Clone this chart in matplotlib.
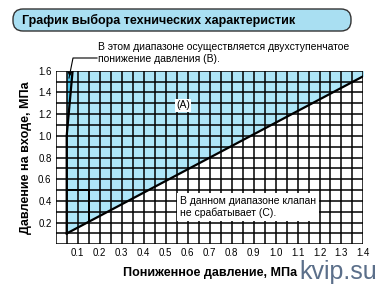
import numpy as np
import matplotlib.pyplot as plt
from matplotlib.patches import FancyBboxPatch

plt.rcParams['font.family'] = ['Liberation Sans', 'DejaVu Sans']

# boundary of the working area (A + B)
low_x = [0.05, 1.4]          # lower diagonal: reduced pressure
low_y = [0.1, 1.55]          # inlet pressure
split_x = [0.05, 0.05, 0.077]  # thick line separating band B from A
split_y = [0.1, 1.0, 1.6]
box_x = [0.05, 0.15, 0.15]   # small marked rectangle
box_y = [0.5, 0.5, 0.207]

xticks = np.round(np.arange(0.1, 1.41, 0.1), 1)
yticks = np.round(np.arange(0.2, 1.61, 0.2), 1)

fig = plt.figure(figsize=(3.81, 2.88), dpi=100)
ax = fig.add_axes([0.1462, 0.1517, 0.8078, 0.6028])
ax.set_xlim(0, 1.4)
ax.set_ylim(0, 1.6)

# region A (light blue) between the diagonal and the top
xa = np.linspace(low_x[0], low_x[1], 50)
ya = np.interp(xa, low_x, low_y)
ax.fill_between(xa, ya, 1.6, color='#aee6f8', zorder=1, lw=0)
# band B (darker cyan)
yb = np.linspace(split_y[1], split_y[2], 20)
xb = np.interp(yb, split_y[1:], split_x[1:])
ax.fill_betweenx(yb, 0.05, xb, color='#4cc6ec', zorder=1, lw=0)

# grid
for gx in np.arange(0, 1.401, 0.05):
    ax.axvline(gx, color='black', lw=1.1, zorder=2)
for gy in np.arange(0, 1.601, 0.1):
    ax.axhline(gy, color='black', lw=1.1, zorder=2)

ax.plot(low_x, low_y, color='black', lw=1.6, zorder=3)
ax.plot(split_x, split_y, color='black', lw=1.6, zorder=3)
ax.plot(box_x, box_y, color='black', lw=1.4, zorder=3)

for s in ax.spines.values():
    s.set_visible(False)
ax.tick_params(length=0, labelsize=7, pad=3)
ax.set_xticks(xticks)
ax.set_xticklabels([f'{v:.1f}' for v in xticks])
ax.set_yticks(yticks)
ax.set_yticklabels([f'{v:.1f}' for v in yticks])

ax.set_xlabel('Пониженное давление, МПа', fontsize=9, fontweight='bold', labelpad=6)
ax.set_ylabel('Давление на входе, МПа', fontsize=9, fontweight='bold', labelpad=4)

# labels inside the chart
ax.text(0.58, 1.28, '(A)', fontsize=7.5, ha='center', va='center', zorder=4,
        bbox=dict(facecolor='white', edgecolor='none', pad=1))
ax.text(0.565, 0.345, 'В данном диапазоне клапан\nне срабатывает (C).', fontsize=7.5,
        ha='left', va='center', zorder=4, linespacing=1.2,
        bbox=dict(facecolor='white', edgecolor='none', pad=2))

# note about band B with a leader line
fig.text(98 / 381, 1 - 53 / 288, 'В этом диапазоне осуществляется двухступенчатое\nпонижение давления (B).',
         fontsize=7.5, ha='left', va='center', linespacing=1.2)
fig.add_artist(plt.Line2D([97 / 381, 73 / 381, 69 / 381],
                          [1 - 58 / 288, 1 - 58 / 288, 1 - 78 / 288],
                          color='black', lw=0.8))
ax.annotate('', xy=(0.062, 1.52), xytext=(0.065, 1.6),
            arrowprops=dict(arrowstyle='-|>', color='black', lw=0.8, mutation_scale=6), zorder=5)

# title box (pixel coordinates)
tb = FancyBboxPatch((13, 288 - 31), 338, 22,
                    boxstyle='round,pad=0,rounding_size=10', transform=None,
                    facecolor='#a9dff2', edgecolor='#333333', lw=1.0)
fig.add_artist(tb)
fig.text(22 / 381, 1 - 20 / 288, 'График выбора технических характеристик',
         fontsize=9, fontweight='bold', ha='left', va='center')

fig.text(299 / 381, 1 - 272 / 288, 'kvip.su', fontsize=18, color='#5b6f8a',
         ha='left', va='center')

fig.savefig('out.png', dpi=100)
